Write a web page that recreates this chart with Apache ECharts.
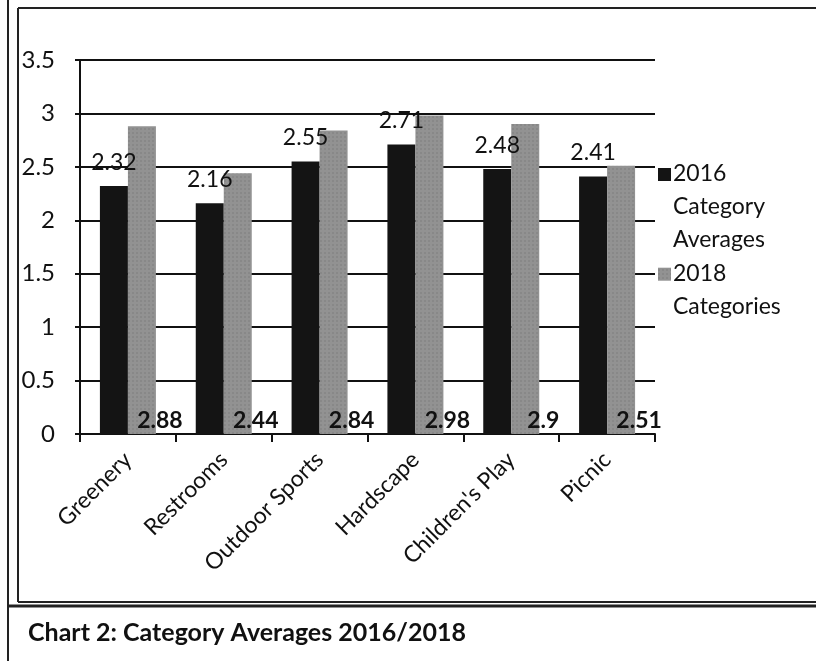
<!DOCTYPE html>
<html>
<head>
<meta charset="utf-8">
<script src="https://cdn.jsdelivr.net/npm/echarts@6/dist/echarts.min.js"></script>
<style>
  html, body { margin: 0; padding: 0; background: #fff; }
  #chart { width: 816px; height: 661px; }
</style>
</head>
<body>
<div id="chart"></div>
<script>
var categories = ['Greenery', 'Restrooms', 'Outdoor Sports', 'Hardscape', "Children's Play", 'Picnic'];
var avg2016 = [2.32, 2.16, 2.55, 2.71, 2.48, 2.41];
var cat2018 = [2.88, 2.44, 2.84, 2.98, 2.9, 2.51];
var yTicks = [0, 0.5, 1, 1.5, 2, 2.5, 3, 3.5];

var font = 'Lato, "Open Sans", sans-serif';
var ink = '#111';

var chart = echarts.init(document.getElementById('chart'));

var option = {
    backgroundColor: '#fff',
    animation: false,
    textStyle: { fontFamily: font, color: ink },
    grid: { left: 80, right: 161, top: 60, bottom: 227 },
    legend: [
        {
            left: 653, top: 152, orient: 'vertical',
            data: ['2016 Category Averages'],
            itemWidth: 13, itemHeight: 99,
            icon: 'path://M0,0M0,5.7h10v10h-10zM0,70.7',
            formatter: function () { return '2016\nCategory\nAverages'; },
            textStyle: { fontSize: 23, lineHeight: 33, color: ink, fontFamily: font, padding: [0, 0, 0, -3] }
        },
        {
            left: 653, top: 252, orient: 'vertical',
            data: ['2018 Categories'],
            itemWidth: 13, itemHeight: 66,
            icon: 'path://M0,0M0,6.4h10v10h-10zM0,47.1',
            formatter: function () { return '2018\nCategories'; },
            textStyle: { fontSize: 23, lineHeight: 33, color: ink, fontFamily: font, padding: [0, 0, 0, -3] }
        }
    ],
    xAxis: {
        type: 'category',
        data: categories,
        axisLine: { lineStyle: { color: ink, width: 2 } },
        axisTick: { show: true, length: 8, lineStyle: { color: ink, width: 2 } },
        axisLabel: { rotate: 45, fontSize: 23, color: ink, margin: 22, fontFamily: font }
    },
    yAxis: {
        type: 'value',
        min: 0, max: 3.5, interval: 0.5,
        axisLine: { show: true, lineStyle: { color: ink, width: 2 } },
        axisTick: { show: true, length: 5, lineStyle: { color: ink, width: 2 } },
        splitLine: { lineStyle: { color: ink, width: 2 } },
        axisLabel: {
            fontSize: 24, color: ink, margin: 25, fontFamily: font,
            formatter: function (v) { return yTicks.indexOf(v) >= 0 ? String(v) : ''; }
        }
    },
    series: [
        {
            name: '2016 Category Averages',
            type: 'bar',
            data: avg2016,
            barWidth: 28,
            barGap: '0%',
            itemStyle: { color: '#141414' },
            label: {
                show: true, position: 'top', distance: 12,
                fontSize: 23, color: ink, fontFamily: font
            }
        },
        {
            name: '2018 Categories',
            type: 'bar',
            data: cat2018,
            barWidth: 28,
            itemStyle: {
                color: '#929292',
                decal: {
                    symbol: 'rect', symbolSize: 0.5, color: 'rgba(40,40,40,0.35)',
                    dashArrayX: [2, 2], dashArrayY: [2, 2], rotation: 0
                }
            },
            label: {
                show: true, position: 'insideBottom', distance: 2, offset: [18, 0],
                fontSize: 23, fontWeight: 'bold', color: ink, fontFamily: font
            }
        }
    ],
    graphic: [
        { type: 'line', shape: { x1: 8, y1: 0, x2: 8, y2: 661 }, style: { stroke: '#222', lineWidth: 2 } },
        { type: 'line', shape: { x1: 18, y1: 8, x2: 816, y2: 8 }, style: { stroke: '#222', lineWidth: 2 } },
        { type: 'line', shape: { x1: 18, y1: 8, x2: 18, y2: 602 }, style: { stroke: '#222', lineWidth: 2 } },
        { type: 'line', shape: { x1: 18, y1: 602, x2: 816, y2: 602 }, style: { stroke: '#222', lineWidth: 2 } },
        { type: 'line', shape: { x1: 8, y1: 606, x2: 816, y2: 606 }, style: { stroke: '#222', lineWidth: 3 } },
        {
            type: 'text', left: 28, top: 620,
            style: { text: 'Chart 2: Category Averages 2016/2018', font: 'bold 25px ' + font, fill: ink }
        }
    ]
};

chart.setOption(option);
</script>
</body>
</html>
